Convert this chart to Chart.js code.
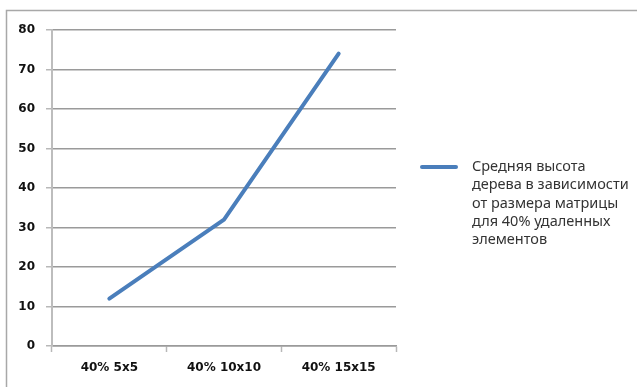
<!DOCTYPE html>
<html>
<head>
<meta charset="utf-8">
<script src="https://cdn.jsdelivr.net/npm/chart.js@4.4.1/dist/chart.umd.min.js"></script>
<style>
  html, body { margin: 0; padding: 0; background: #ffffff; }
  #wrap { width: 637px; height: 387px; position: relative; }
</style>
</head>
<body>
<div id="wrap"><canvas id="c" width="637" height="387"></canvas></div>
<script>
// Average tree height versus matrix size, 40% of elements removed
const categories = ['40% 5x5', '40% 10x10', '40% 15x15'];
const heights = [12, 32, 74];
const yTicks = [0, 10, 20, 30, 40, 50, 60, 70, 80];
const seriesLabel = ['Средняя высота', 'дерева в зависимости', 'от размера матрицы', 'для 40% удаленных', 'элементов'];

const lineColor = '#4a7ebb';
const gridColor = '#9a9a9a';
const tickFont = { family: 'DejaVu Sans', size: 12, weight: 'bold' };

// Outer frame of the chart object
const framePlugin = {
  id: 'frame',
  beforeDraw(chart) {
    const ctx = chart.ctx;
    ctx.save();
    ctx.strokeStyle = '#a8a8a8';
    ctx.lineWidth = 1.5;
    ctx.beginPath();
    ctx.moveTo(6.5, 387);
    ctx.lineTo(6.5, 10.5);
    ctx.lineTo(637, 10.5);
    ctx.stroke();
    ctx.restore();
  }
};

// Legend on the right with the series name wrapped over several lines
const wrappedLegend = {
  id: 'wrappedLegend',
  afterDraw(chart) {
    const ctx = chart.ctx;
    const ds = chart.data.datasets[0];
    const x0 = 420, x1 = 458, yc = 167;
    ctx.save();
    ctx.strokeStyle = ds.borderColor;
    ctx.lineWidth = 4;
    ctx.lineCap = 'round';
    ctx.beginPath();
    ctx.moveTo(x0 + 2, yc);
    ctx.lineTo(x1 - 2, yc);
    ctx.stroke();
    ctx.fillStyle = '#333333';
    ctx.font = '14.5px "Noto Sans"';
    ctx.textBaseline = 'middle';
    ctx.textAlign = 'left';
    const lines = ds.labelLines;
    lines.forEach((t, i) => ctx.fillText(t, 472, yc + i * 18.2));
    ctx.restore();
  }
};

new Chart(document.getElementById('c'), {
  type: 'line',
  data: {
    labels: categories,
    datasets: [{
      label: seriesLabel.join(' '),
      labelLines: seriesLabel,
      data: heights,
      borderColor: lineColor,
      backgroundColor: lineColor,
      borderWidth: 4,
      borderCapStyle: 'round',
      borderJoinStyle: 'round',
      pointRadius: 0,
      pointHoverRadius: 0,
      tension: 0,
      fill: false
    }]
  },
  options: {
    responsive: false,
    animation: false,
    events: [],
    layout: { padding: { left: 0, top: 30, right: 241, bottom: 0 } },
    plugins: {
      legend: { display: false },
      tooltip: { enabled: false },
      title: { display: false }
    },
    scales: {
      x: {
        type: 'category',
        offset: true,
        grid: {
          offset: true,
          drawOnChartArea: false,
          drawTicks: true,
          tickLength: 6,
          tickColor: '#b8b8b8',
          tickWidth: 1.5
        },
        border: { display: true, color: gridColor, width: 1.5 },
        ticks: {
          font: tickFont,
          color: '#111111',
          padding: 9,
          maxRotation: 0,
          autoSkip: false
        },
        afterFit(s) { s.height = 41; }
      },
      y: {
        min: 0,
        max: 80,
        afterBuildTicks(s) { s.ticks = yTicks.map(v => ({ value: v })); },
        grid: {
          color: gridColor,
          lineWidth: 1.5,
          tickLength: 6,
          tickColor: '#b8b8b8'
        },
        border: { display: true, color: '#bdbdbd', width: 2 },
        ticks: {
          font: tickFont,
          color: '#111111',
          padding: 11
        },
        afterFit(s) { s.width = 52; }
      }
    }
  },
  plugins: [framePlugin, wrappedLegend]
});
</script>
</body>
</html>
